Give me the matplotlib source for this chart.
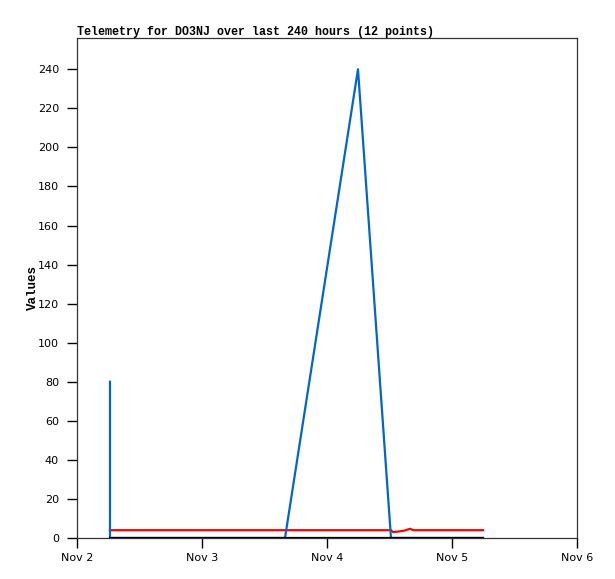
import matplotlib
matplotlib.use("Agg")
import matplotlib.pyplot as plt
import matplotlib.dates as mdates
import pandas as pd

# Telemetry samples (12 points)
times = pd.to_datetime([
    "2023-11-02 06:20", "2023-11-02 06:20", "2023-11-03 15:56",
    "2023-11-04 05:57", "2023-11-04 12:17", "2023-11-04 12:40",
    "2023-11-04 13:41", "2023-11-04 14:24", "2023-11-04 14:53",
    "2023-11-04 15:56", "2023-11-04 16:34", "2023-11-05 05:57",
])
blue_vals = [80, 0, 0, 240, 0, 0, 0, 0, 0, 0, 0, 0]
red_vals = [4, 4, 4, 4, 4, 3, 3.3, 3.6, 3.8, 4.7, 4, 4]
black_vals = [0] * 12

tick_dates = pd.to_datetime(["2023-11-02", "2023-11-03", "2023-11-04",
                             "2023-11-05", "2023-11-06"])
tick_labels = ["Nov 2", "Nov 3", "Nov 4", "Nov 5", "Nov 6"]
y_ticks = list(range(0, 241, 20))

fig = plt.figure(figsize=(6.15, 5.79), dpi=100)
ax = fig.add_axes([77 / 615, 41 / 579, 500 / 615, 500 / 579])

# red under blue, black on top (hides blue where it sits at 0)
ax.plot(times[1:], red_vals[1:], color="#ff0000", linewidth=1.6, zorder=2)
ax.plot(times, blue_vals, color="#0066cc", linewidth=1.6, zorder=3)
ax.plot(times[1:], black_vals[1:], color="black", linewidth=1.6, zorder=4)

ax.set_xlim(tick_dates[0], tick_dates[-1])
ax.set_ylim(0, 256)
ax.set_xticks(mdates.date2num(tick_dates))
ax.set_xticklabels(tick_labels)
ax.set_yticks(y_ticks)

ax.tick_params(direction="out", length=7, width=1, labelsize=8, pad=6,
               top=False, right=False)
ax.tick_params(axis="x", pad=4)
for sp in ax.spines.values():
    sp.set_linewidth(0.9)
    sp.set_color("#333333")

ax.set_ylabel("Values", fontfamily="Liberation Mono", fontweight="bold",
              fontsize=9)
ax.yaxis.set_label_coords(-0.076, 0.5)
ax.set_title("Telemetry for DO3NJ over last 240 hours (12 points)",
             fontfamily="Liberation Mono", fontweight="bold", fontsize=8.4,
             loc="left", pad=2)

fig.savefig("out.png", dpi=100)
